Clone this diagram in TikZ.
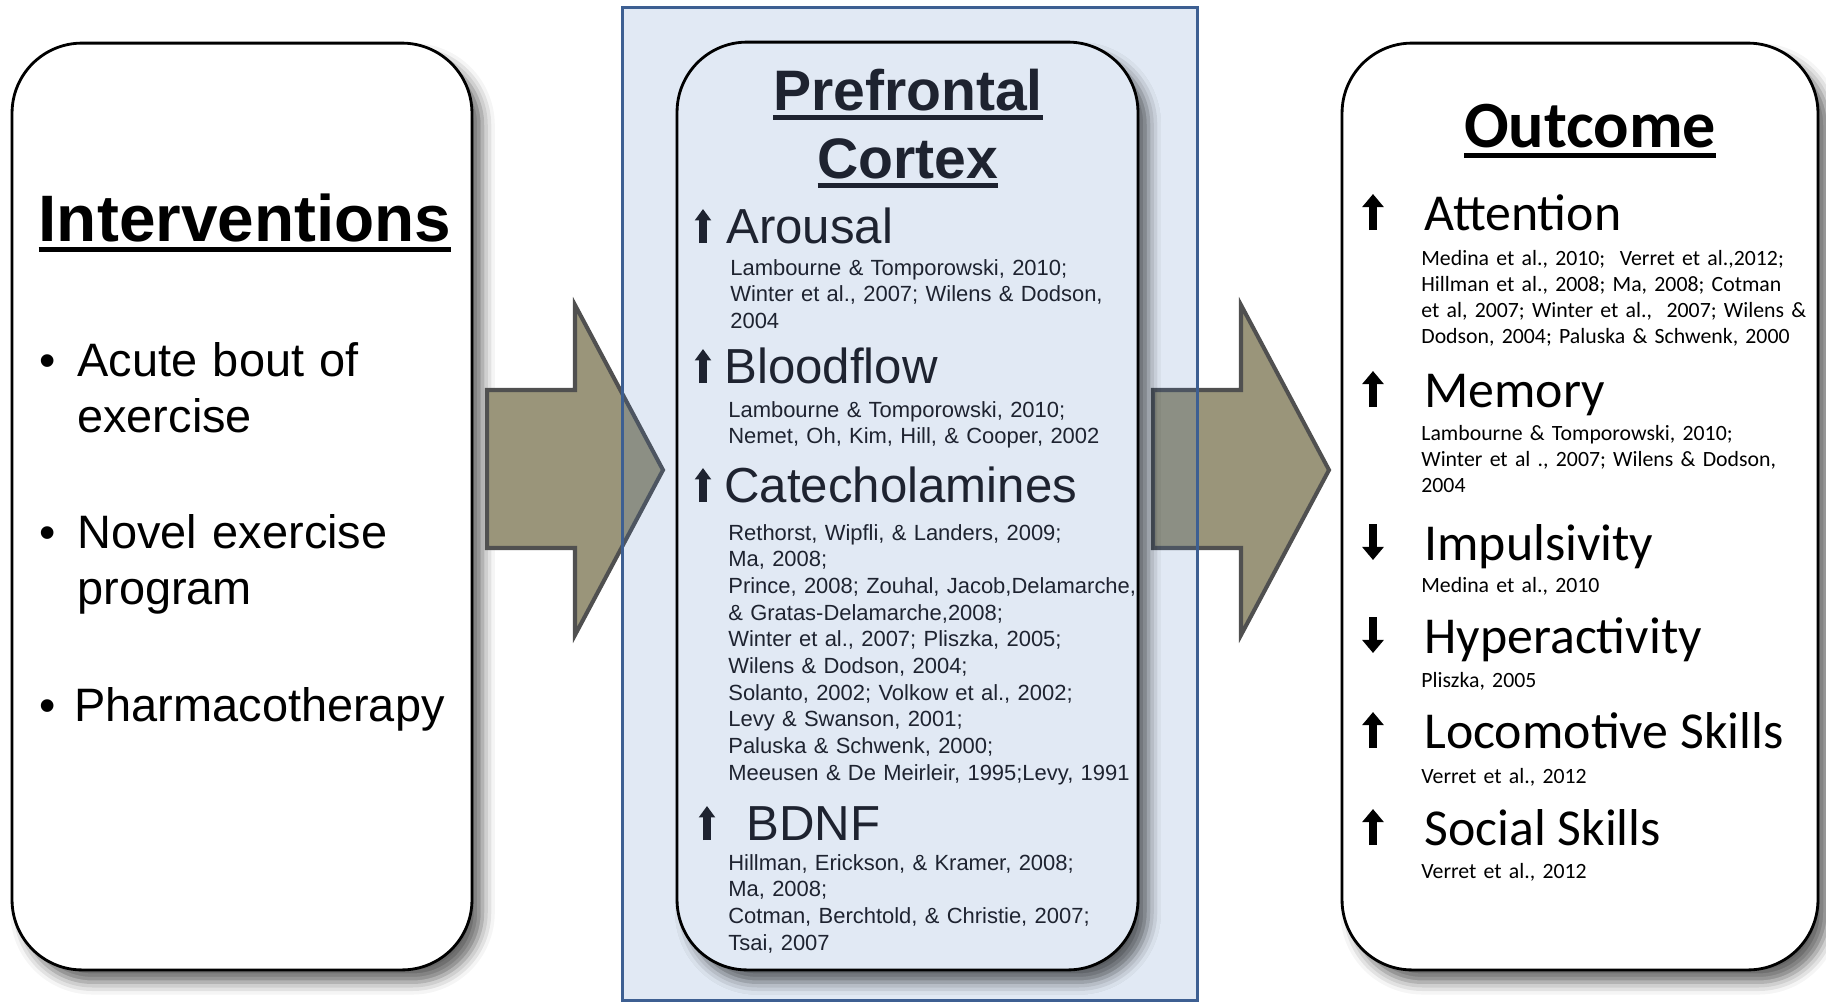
\documentclass[tikz,border=0pt]{standalone}
\usepackage{fontspec}
\setmainfont{Liberation Sans}
\newfontfamily\calibri{Carlito}
\usetikzlibrary{arrows.meta,shadows.blur}

\definecolor{arrowfill}{RGB}{154,149,122}
\definecolor{arrowline}{RGB}{80,80,80}
\definecolor{pfcblue}{RGB}{67,117,186}
\definecolor{pfcline}{RGB}{61,95,146}
\definecolor{pfcfill}{RGB}{225,233,244}
\definecolor{pfctext}{RGB}{30,35,48}

\newcommand{\ulhead}[1]{\setbox0\hbox{#1}\rlap{\rule[-0.17em]{\wd0}{0.075em}}\box0}

\tikzset{
  panel/.style={draw=black, line width=1.6pt, fill=white, rounded corners=1.4cm,
    blur shadow={shadow xshift=6pt, shadow yshift=-7pt, shadow blur radius=7pt, shadow opacity=60}},
  bigarrow/.style={draw=arrowline, line width=2.3pt, fill=arrowfill, line join=miter},
  txt/.style={inner sep=0pt, anchor=base west},
  cites/.style={txt, text width=10cm, align=left},
  midup/.style={line width=4pt, -{Triangle[length=6.5pt,width=9pt]}, pfctext},
  rightarr/.style={line width=4.8pt, -{Triangle[length=7.5pt,width=12pt]}, black}
}

\begin{document}
\begin{tikzpicture}[x=0.02cm, y=-0.02cm]
  \useasboundingbox (0,0) rectangle (1826,1002);

  \node[panel, minimum width=9.2cm, minimum height=18.54cm] (intbox) at (242,506.5) {};
  \node[panel, minimum width=9.52cm, minimum height=18.54cm] (outbox) at (1580,506.5) {};

  \foreach \x in {487,1153}
    \draw[bigarrow] (\x,390) -- ++(88,0) -- ++(0,-85) -- (\x+176,470) -- (\x+88,635) -- ++(0,-87) -- (\x,548) -- cycle;

  \draw[draw=pfcline, line width=1.7pt, fill=pfcblue, fill opacity=0.16] (622,7) rectangle (1197,1000);
  \node[panel, fill=pfcfill, minimum width=9.22cm, minimum height=18.56cm] (pfcbox) at (907.5,506) {};

  % interventions
  \node[txt, anchor=base, font=\fontsize{37.4}{45}\selectfont\bfseries] (inttitle) at (245,241) {\ulhead{Interventions}};
  \foreach \y/\name in {376/bul1, 548/bul2, 721/bul3}
    \node[txt, anchor=base, font=\fontsize{26.5}{32}\selectfont] (\name) at (48,\y) {•};
  \node[cites, text width=8cm, font=\fontsize{26.7}{31.9}\selectfont] (item1) at (77,376) {Acute bout of\\exercise};
  \node[cites, text width=8cm, font=\fontsize{26.7}{31.9}\selectfont] (item2) at (77,548) {Novel exercise\\program};
  \node[cites, text width=8cm, font=\fontsize{26.7}{31.9}\selectfont] (item3) at (74,721) {Pharmacotherapy};

  % prefrontal cortex
  \node[txt, anchor=base, font=\fontsize{32.5}{38}\selectfont\bfseries, pfctext] (pfctitle1) at (908,110) {\ulhead{Prefrontal}};
  \node[txt, anchor=base, font=\fontsize{32.5}{38}\selectfont\bfseries, pfctext] (pfctitle2) at (908,178) {\ulhead{Cortex}};
  \foreach \x/\y/\name/\label in {726/243/arousal/Arousal, 724/383/blood/Bloodflow, 724/502/catechol/Catecholamines, 746/840/bdnf/BDNF}
    \node[txt, font=\fontsize{28}{33}\selectfont, pfctext] (\name) at (\x,\y) {\label};
  \foreach \x/\y in {703/243, 703/383, 703/502, 707/840}
    \draw[midup] (\x,\y) -- ++(0,-34);
  \node[cites, font=\fontsize{12.5}{15.2}\selectfont, pfctext] (cite-arousal) at (730,275)
    {Lambourne \& Tomporowski, 2010;\\Winter et al., 2007; Wilens \& Dodson,\\2004};
  \node[cites, font=\fontsize{12.5}{15.2}\selectfont, pfctext] (cite-blood) at (728,417)
    {Lambourne \& Tomporowski, 2010;\\Nemet, Oh, Kim, Hill, \& Cooper, 2002};
  \node[cites, font=\fontsize{12.5}{15.2}\selectfont, pfctext] (cite-catechol) at (728,540)
    {Rethorst, Wipfli, \& Landers, 2009;\\Ma, 2008;\\Prince, 2008; Zouhal, Jacob,Delamarche,\\\& Gratas-Delamarche,2008;\\Winter et al., 2007; Pliszka, 2005;\\Wilens \& Dodson, 2004;\\Solanto, 2002; Volkow et al., 2002;\\Levy \& Swanson, 2001;\\Paluska \& Schwenk, 2000;\\Meeusen \& De Meirleir, 1995;Levy, 1991};
  \node[cites, font=\fontsize{12.5}{15.2}\selectfont, pfctext] (cite-bdnf) at (728,870)
    {Hillman, Erickson, \& Kramer, 2008;\\Ma, 2008;\\Cotman, Berchtold, \& Christie, 2007;\\Tsai, 2007};

  % outcome
  \node[txt, anchor=base, font=\calibri\fontsize{37.6}{45}\selectfont\bfseries] (outtitle) at (1590,147) {\ulhead{Outcome}};
  \foreach \y/\name/\label in {230/attn/Attention, 407/memory/Memory, 560/impuls/Impulsivity, 653/hyper/Hyperactivity, 748/locomot/Locomotive Skills, 845/social/Social Skills}
    \node[txt, font=\calibri\fontsize{29.5}{35}\selectfont] (\name) at (1424,\y) {\label};
  \foreach \y in {230,407,748,845}
    \draw[rightarr] (1373,\y) -- ++(0,-36);
  \foreach \y in {560,653}
    \draw[rightarr] (1373,\y-36) -- ++(0,36);
  \node[cites, font=\calibri\fontsize{12.4}{14.8}\selectfont] (cite-attn) at (1421,265)
    {Medina et al., 2010;\ \ Verret et al.,2012;\\Hillman et al., 2008; Ma, 2008; Cotman\\et al, 2007; Winter et al.,\ \ 2007; Wilens \&\\Dodson, 2004; Paluska \& Schwenk, 2000};
  \node[cites, font=\calibri\fontsize{12.4}{14.8}\selectfont] (cite-memory) at (1421,440)
    {Lambourne \& Tomporowski, 2010;\\Winter et al ., 2007; Wilens \& Dodson,\\2004};
  \node[cites, font=\calibri\fontsize{12.4}{14.8}\selectfont] (cite-impuls) at (1421,592) {Medina et al., 2010};
  \node[cites, font=\calibri\fontsize{12.4}{14.8}\selectfont] (cite-hyper) at (1421,687) {Pliszka, 2005};
  \node[cites, font=\calibri\fontsize{12.4}{14.8}\selectfont] (cite-locomot) at (1421,783) {Verret et al., 2012};
  \node[cites, font=\calibri\fontsize{12.4}{14.8}\selectfont] (cite-social) at (1421,878) {Verret et al., 2012};
\end{tikzpicture}
\end{document}
